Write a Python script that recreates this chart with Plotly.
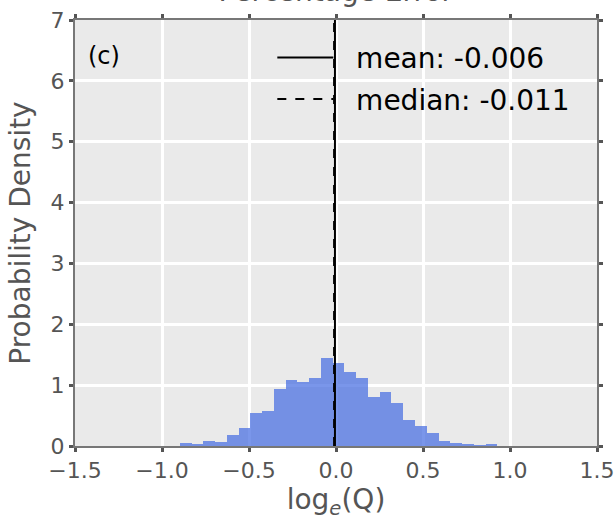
import plotly.graph_objects as go

# ---- data ----
bin_start = -0.898
bin_width = 0.0676
density = [0.044, 0.027, 0.08, 0.066, 0.175, 0.29, 0.55, 0.57, 0.94, 1.09, 1.05, 1.12, 1.44,
           1.36, 1.21, 1.11, 0.81, 0.89, 0.70, 0.43, 0.33, 0.21, 0.09, 0.055, 0.033, 0.01, 0.033]
mean_val = -0.006
median_val = -0.011
x_ticks = [-1.5, -1.0, -0.5, 0.0, 0.5, 1.0, 1.5]
y_ticks = [0, 1, 2, 3, 4, 5, 6, 7]
title_text = "Percentage Error"
panel_label = "(c)"

centers = [bin_start + (i + 0.5) * bin_width for i in range(len(density))]

FONT = "DejaVu Sans"
GRAY = "#555555"
PAD = "\u00a0\u00a0"

fig = go.Figure()
fig.add_trace(go.Bar(
    x=centers, y=density, width=bin_width,
    marker=dict(color="rgba(65,105,225,0.7)", line=dict(width=0)),
    showlegend=False, hoverinfo="skip",
))
fig.add_trace(go.Scatter(
    x=[mean_val, mean_val], y=[y_ticks[0], y_ticks[-1]], mode="lines",
    line=dict(color="black", width=2), name=PAD + f"mean: {mean_val:.3f}",
    legendgroup="a",
))
fig.add_trace(go.Scatter(
    x=[median_val, median_val], y=[y_ticks[0], y_ticks[-1]], mode="lines",
    line=dict(color="black", width=2, dash="dash"), name=PAD + f"median: {median_val:.3f}",
    legendgroup="b",
))

axis_common = dict(
    showgrid=True, gridcolor="white", gridwidth=3,
    showline=True, linecolor="#777777", linewidth=2, mirror="ticks",
    ticks="outside", ticklen=4, tickwidth=3, tickcolor="#555555",
    tickfont=dict(family=FONT, size=22, color=GRAY),
    zeroline=False, automargin=False,
)

fig.update_xaxes(
    range=[x_ticks[0], x_ticks[-1]], tickvals=x_ticks,
    ticktext=[f"{v:.1f}".replace("-", "\u2212") for v in x_ticks],
    title=dict(text="log<sub><i>e</i></sub>(Q)", font=dict(family=FONT, size=28, color=GRAY), standoff=6),
    **axis_common,
)
fig.update_yaxes(
    range=[y_ticks[0], y_ticks[-1]], tickvals=y_ticks,
    title=dict(text="Probability Density", font=dict(family=FONT, size=28, color=GRAY), standoff=12),
    **axis_common,
)

fig.add_annotation(
    text=panel_label, xref="paper", yref="paper", x=0.022, y=0.915,
    xanchor="left", yanchor="middle", showarrow=False,
    font=dict(family=FONT, size=24, color="black"),
)

fig.update_layout(
    width=616, height=522,
    margin=dict(l=75, r=19, t=20, b=76),
    plot_bgcolor="#EAEAEA", paper_bgcolor="white",
    bargap=0,
    title=dict(text=title_text, x=0.545, xanchor="center", y=1 - 1 / 522, yanchor="bottom",
               yref="container", font=dict(family=FONT, size=28, color=GRAY)),
    legend=dict(
        x=0.378, y=0.97, xanchor="left", yanchor="top",
        bgcolor="rgba(0,0,0,0)", borderwidth=0,
        font=dict(family=FONT, size=28, color="black"),
        traceorder="grouped", tracegroupgap=2, itemwidth=56,
    ),
)

fig.write_html("out.html")
